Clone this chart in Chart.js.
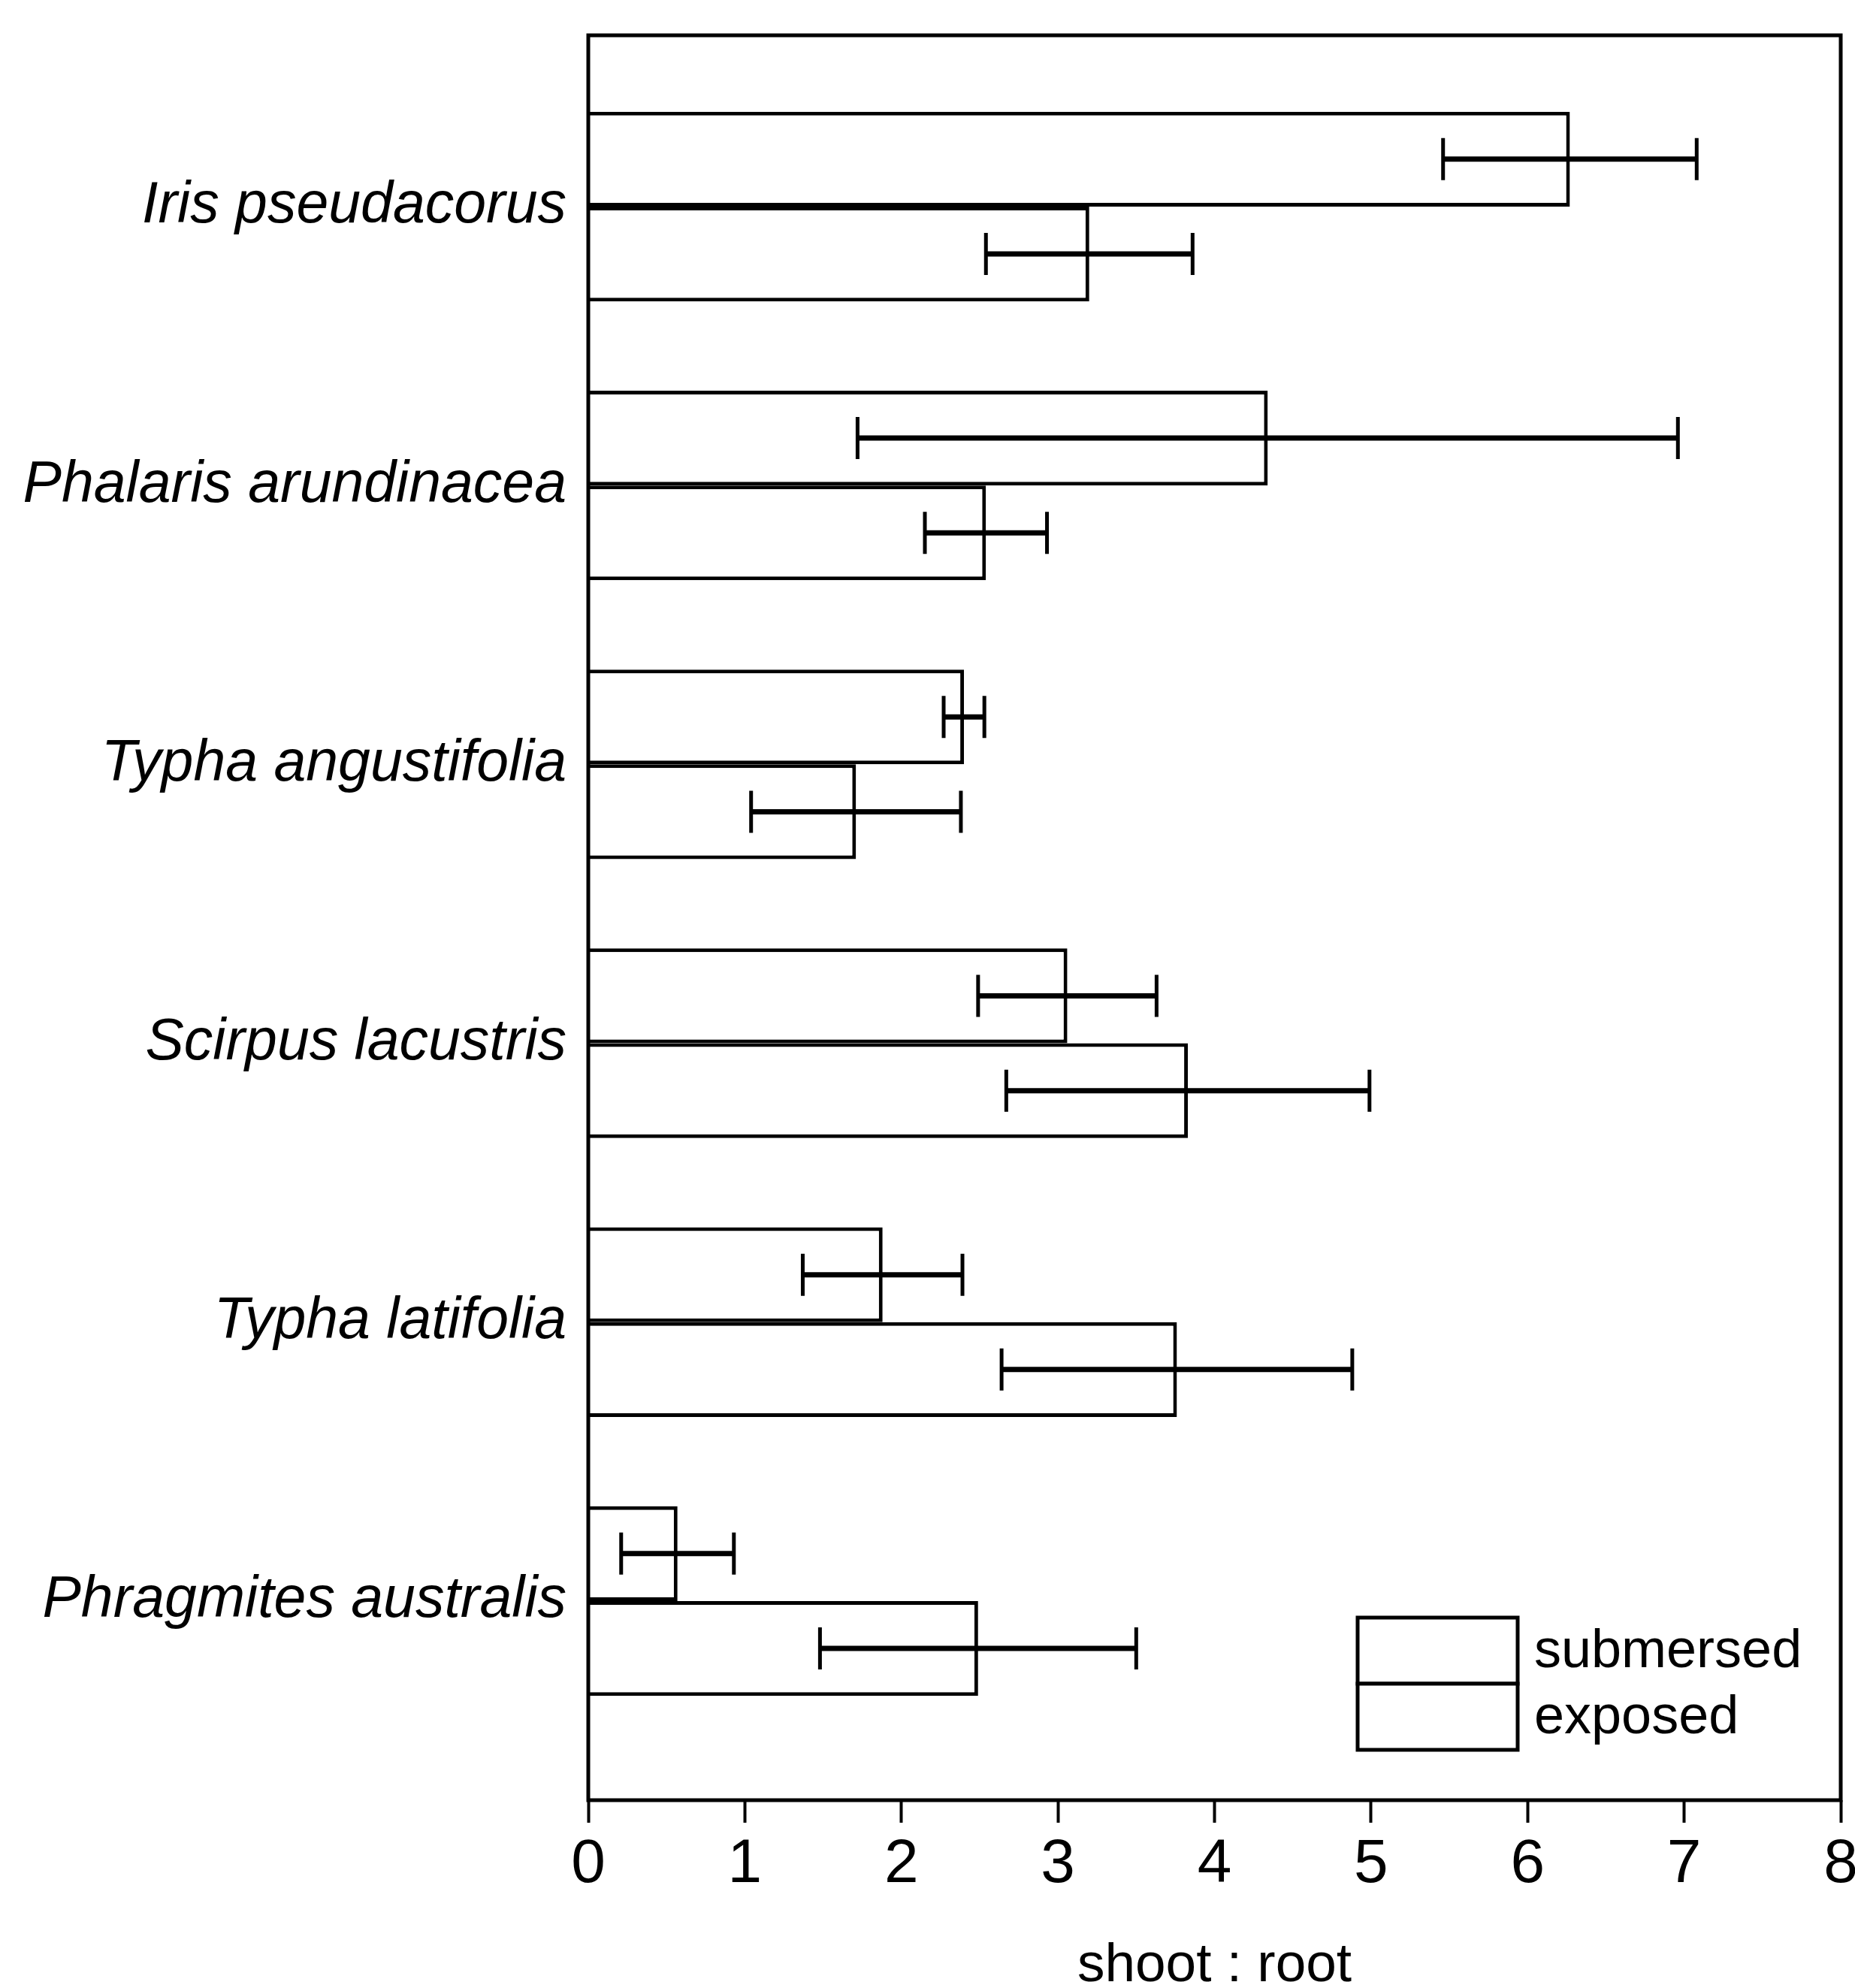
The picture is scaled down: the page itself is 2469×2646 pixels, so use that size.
<!DOCTYPE html>
<html lang="en">
<head>
<meta charset="UTF-8">
<title>Shoot : root ratio</title>
<script src="https://cdn.jsdelivr.net/npm/chart.js@4.4.1/dist/chart.umd.min.js"></script>
<style>
  body { margin: 0; background: #fff; }
  canvas { display: block; }
</style>
</head>
<body>
<canvas id="chart" width="2469" height="2646"></canvas>
<script>
// data
const species = ['Iris pseudacorus', 'Phalaris arundinacea', 'Typha angustifolia',
                 'Scirpus lacustris', 'Typha latifolia', 'Phragmites australis'];
const submersed    = [6.27, 4.34, 2.40, 3.06, 1.88, 0.57];
const submersedErr = [0.81, 2.62, 0.13, 0.57, 0.51, 0.36];
const exposed      = [3.20, 2.54, 1.71, 3.83, 3.76, 2.49];
const exposedErr   = [0.66, 0.39, 0.67, 1.16, 1.12, 1.01];
const xMin = 0, xMax = 8;

const toPoints = vals => vals.map((v, i) => ({x: v, y: i}));

// black frame round the plot area
const framePlugin = {
  id: 'frame',
  afterDatasetsDraw(chart) {
    const a = chart.chartArea, ctx = chart.ctx;
    ctx.save();
    ctx.strokeStyle = '#000';
    ctx.lineWidth = 5;
    ctx.strokeRect(a.left, a.top, a.right - a.left, a.bottom - a.top);
    ctx.restore();
  }
};

// +/- error bars drawn at the end of each bar
const errorBarPlugin = {
  id: 'errorBars',
  afterDatasetsDraw(chart) {
    const ctx = chart.ctx, xs = chart.scales.x;
    ctx.save();
    ctx.strokeStyle = '#000';
    chart.data.datasets.forEach((ds, di) => {
      const meta = chart.getDatasetMeta(di);
      meta.data.forEach((bar, i) => {
        const v = ds.data[i].x, e = ds.errors[i];
        const x1 = xs.getPixelForValue(v - e), x2 = xs.getPixelForValue(v + e);
        const y = bar.y, cap = 28;
        ctx.lineWidth = 7;
        ctx.beginPath();
        ctx.moveTo(x1, y); ctx.lineTo(x2, y);
        ctx.stroke();
        ctx.lineWidth = 5;
        ctx.beginPath();
        ctx.moveTo(x1, y - cap); ctx.lineTo(x1, y + cap);
        ctx.moveTo(x2, y - cap); ctx.lineTo(x2, y + cap);
        ctx.stroke();
      });
    });
    ctx.restore();
  }
};

// legend: two stacked boxes with the labels beside them
const boxLegendPlugin = {
  id: 'boxLegend',
  afterDraw(chart) {
    const ctx = chart.ctx, a = chart.chartArea;
    const w = 213, h = 88;
    const left = a.right - 643, top = a.bottom - 243;
    ctx.save();
    ctx.font = '72px "Liberation Sans", Arial, sans-serif';
    ctx.textBaseline = 'middle';
    ctx.textAlign = 'left';
    chart.data.datasets.forEach((ds, i) => {
      const y = top + i * h;
      ctx.fillStyle = '#fff';
      ctx.fillRect(left, y, w, h);
      ctx.strokeStyle = '#000';
      ctx.lineWidth = 5;
      ctx.strokeRect(left, y, w, h);
      ctx.fillStyle = '#000';
      ctx.fillText(ds.label, left + w + 22, y + h / 2 + 2);
    });
    ctx.restore();
  }
};

const barStyle = {
  backgroundColor: '#fff',
  borderColor: '#000',
  borderWidth: 5,
  borderSkipped: 'start',
  categoryPercentage: 0.68,
  barPercentage: 1.0
};

new Chart(document.getElementById('chart'), {
  type: 'bar',
  data: {
    datasets: [
      {label: 'submersed', data: toPoints(submersed), errors: submersedErr, ...barStyle},
      {label: 'exposed', data: toPoints(exposed), errors: exposedErr, ...barStyle}
    ]
  },
  options: {
    indexAxis: 'y',
    responsive: false,
    animation: false,
    layout: {padding: {top: 47, right: 19, bottom: 0, left: 0}},
    scales: {
      x: {
        type: 'linear',
        position: 'bottom',
        min: xMin,
        max: xMax,
        ticks: {
          stepSize: 1,
          color: '#000',
          padding: 7,
          font: {family: '"Liberation Sans", Arial, sans-serif', size: 82}
        },
        grid: {drawOnChartArea: false, drawTicks: true, tickLength: 30, tickWidth: 4, tickColor: '#000'},
        border: {display: false},
        title: {
          display: true,
          text: 'shoot : root',
          color: '#000',
          padding: 0,
          font: {family: '"Liberation Sans", Arial, sans-serif', size: 73, lineHeight: 0.8}
        },
        afterFit(s) { s.paddingLeft = 0; s.paddingRight = 0; s.height = 250; }
      },
      y: {
        type: 'linear',
        reverse: true,
        offset: false,
        min: -0.614,
        max: species.length - 1 + 0.714,
        afterBuildTicks(s) {
          s.ticks = species.map((_, i) => ({value: i}));
        },
        ticks: {
          color: '#000',
          padding: 29,
          font: {family: '"Liberation Sans", Arial, sans-serif', size: 77, style: 'italic'},
          callback: v => species[v] ?? ''
        },
        grid: {display: false, drawTicks: false, offset: false},
        border: {display: false},
        afterFit(s) { s.width = 783; s.paddingTop = 0; s.paddingBottom = 0; }
      }
    },
    plugins: {
      legend: {display: false},
      tooltip: {enabled: false}
    }
  },
  plugins: [framePlugin, errorBarPlugin, boxLegendPlugin]
});
</script>
</body>
</html>
